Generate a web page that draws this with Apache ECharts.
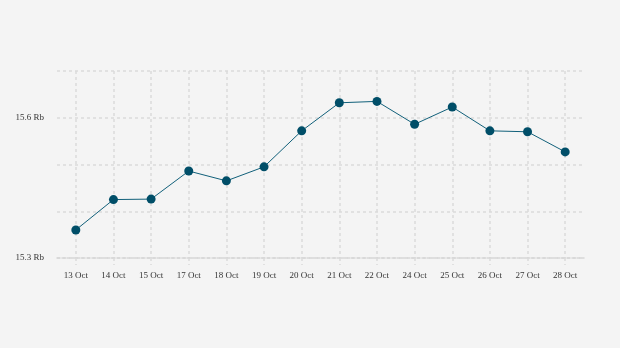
<!DOCTYPE html>
<html><head><meta charset="utf-8">
<script src="https://cdn.jsdelivr.net/npm/echarts@6/dist/echarts.min.js"></script>
<style>html,body{margin:0;padding:0;background:#f4f4f4;}#c{width:620px;height:348px;}</style>
</head><body><div id="c"></div>
<script>
const categories = ['13 Oct','14 Oct','15 Oct','17 Oct','18 Oct','19 Oct','20 Oct','21 Oct','22 Oct','24 Oct','25 Oct','26 Oct','27 Oct','28 Oct'];
const values = [15.360, 15.425, 15.426, 15.486, 15.465, 15.495, 15.572, 15.632, 15.635, 15.586, 15.623, 15.572, 15.570, 15.527];
const yLabels = {'15.3': '15.3 Rb', '15.6': '15.6 Rb'};

const chart = echarts.init(document.getElementById('c'), null, {renderer: 'canvas'});
const font = 'Liberation Serif, DejaVu Serif, serif';
chart.setOption({
  backgroundColor: '#f4f4f4',
  animation: false,
  grid: {left: 57, right: 36, top: 71, bottom: 90},
  xAxis: {
    type: 'category',
    data: categories,
    boundaryGap: true,
    axisLine: {show: true, lineStyle: {color: '#d6d6d6', width: 1.5, type: [3, 2]}},
    axisTick: {show: true, alignWithLabel: true, length: 7, lineStyle: {color: '#dadada', type: [3, 3], width: 1.5}},
    axisLabel: {color: '#333', fontFamily: font, fontSize: 9, margin: 13},
    splitLine: {show: true, alignWithLabel: true, lineStyle: {color: '#dadada', type: [3, 3], width: 1.5}}
  },
  yAxis: {
    type: 'value',
    min: 15.3, max: 15.7, interval: 0.1,
    axisLine: {show: false},
    axisTick: {show: false},
    axisLabel: {
      color: '#333', fontFamily: font, fontSize: 9, margin: 13,
      formatter: v => yLabels[v.toFixed(1)] || ''
    },
    splitLine: {show: true, lineStyle: {color: '#dadada', type: [3, 3], width: 1.5}}
  },
  series: [{
    type: 'line',
    data: values,
    symbol: 'circle',
    symbolSize: 9,
    lineStyle: {color: '#11607a', width: 1},
    itemStyle: {color: '#004e68'}
  }]
});
</script></body></html>
